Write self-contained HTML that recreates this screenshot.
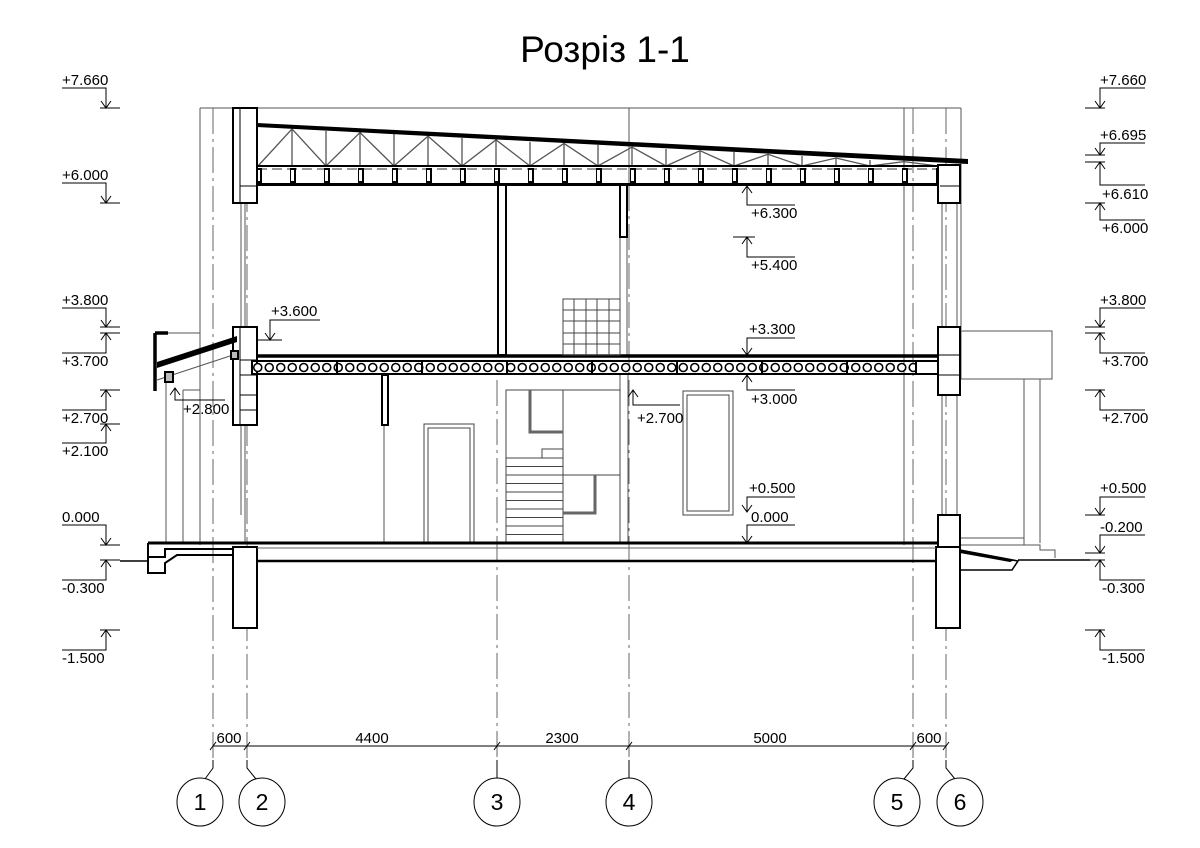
<!DOCTYPE html>
<html><head><meta charset="utf-8"><style>
html,body{margin:0;padding:0;background:#fff;}
svg{display:block;}
text{font-family:"Liberation Sans",sans-serif;fill:#000;}
</style></head><body>
<svg width="1200" height="848" viewBox="0 0 1200 848" xmlns="http://www.w3.org/2000/svg">
<defs>
<pattern id="hc" patternUnits="userSpaceOnUse" x="252" y="0" width="11.5" height="848">
<circle cx="5.75" cy="367.5" r="4" fill="#fff" stroke="#000" stroke-width="1.6"/>
</pattern>
<pattern id="post" patternUnits="userSpaceOnUse" x="256" y="0" width="34" height="848">
<rect x="0" y="169" width="5" height="13" fill="#fff" stroke="#000" stroke-width="2"/>
</pattern>
</defs>

<text x="605" y="62" font-size="37" text-anchor="middle">Розріз 1-1</text>

<g stroke="#555" stroke-width="1" fill="none">
<line x1="200" y1="108" x2="961" y2="108"/>
<line x1="200" y1="108" x2="200" y2="545"/>
<line x1="961" y1="108" x2="961" y2="330"/>
<line x1="904" y1="108" x2="904" y2="545"/>
<line x1="629" y1="108" x2="629" y2="185"/>
<line x1="620" y1="237" x2="620" y2="355"/>
<line x1="627" y1="237" x2="627" y2="355"/>
<line x1="620" y1="375" x2="620" y2="543"/>
<line x1="628" y1="375" x2="628" y2="543"/>
<line x1="166" y1="380" x2="166" y2="543"/>
<line x1="183" y1="390" x2="183" y2="543"/>
<line x1="168" y1="333" x2="200" y2="333"/>
<line x1="183" y1="390" x2="200" y2="390"/>
<line x1="241" y1="203" x2="241" y2="327"/>
<line x1="245" y1="203" x2="245" y2="327"/>
<line x1="241" y1="425" x2="241" y2="515"/>
<line x1="245" y1="425" x2="245" y2="543"/>
<line x1="942" y1="203" x2="942" y2="327"/>
<line x1="957" y1="203" x2="957" y2="327"/>
<line x1="942" y1="395" x2="942" y2="515"/>
<line x1="957" y1="395" x2="957" y2="515"/>
<line x1="384" y1="375" x2="384" y2="543"/>
<rect x="961" y="331" width="91" height="48"/>
<line x1="1024" y1="379" x2="1024" y2="545"/>
<line x1="1040" y1="379" x2="1040" y2="543"/>
<polyline points="961,545 1040,545 1040,550 1055,550 1055,558"/>
<line x1="961" y1="538" x2="1024" y2="538"/>
</g>

<g stroke="#666" stroke-width="1" stroke-dasharray="26,5,3,5" fill="none">
<line x1="213" y1="108" x2="213" y2="760"/>
<line x1="247" y1="108" x2="247" y2="760"/>
<line x1="497" y1="380" x2="497" y2="760"/>
<line x1="629" y1="185" x2="629" y2="760"/>
<line x1="913" y1="108" x2="913" y2="760"/>
<line x1="946" y1="108" x2="946" y2="760"/>
</g>

<polyline points="258,166 292,128.9 326,166 360,132.5 394,166 428,136.1 462,166 496,139.8 530,166 564,143.4 598,166 632,147.1 666,166 700,150.7 734,166 768,154.3 802,166 836,158 870,166 904,161.6 938,166" fill="none" stroke="#555" stroke-width="1.3"/>
<g stroke="#555" stroke-width="1.3">
<line x1="292" y1="129" x2="292" y2="166"/><line x1="326" y1="131" x2="326" y2="166"/><line x1="360" y1="133" x2="360" y2="166"/><line x1="394" y1="134" x2="394" y2="166"/><line x1="428" y1="136" x2="428" y2="166"/><line x1="462" y1="138" x2="462" y2="166"/><line x1="496" y1="140" x2="496" y2="166"/><line x1="530" y1="142" x2="530" y2="166"/><line x1="564" y1="143" x2="564" y2="166"/><line x1="598" y1="145" x2="598" y2="166"/><line x1="632" y1="147" x2="632" y2="166"/><line x1="666" y1="149" x2="666" y2="166"/><line x1="700" y1="151" x2="700" y2="166"/><line x1="734" y1="152" x2="734" y2="166"/><line x1="768" y1="154" x2="768" y2="166"/><line x1="802" y1="156" x2="802" y2="166"/><line x1="836" y1="158" x2="836" y2="166"/><line x1="870" y1="160" x2="870" y2="166"/><line x1="904" y1="162" x2="904" y2="166"/>
</g>
<polygon points="257,123 968,159 968,164 257,127" fill="#000"/>
<line x1="257" y1="166" x2="940" y2="166" stroke="#000" stroke-width="2"/>
<line x1="257" y1="169" x2="940" y2="169" stroke="#777" stroke-width="1.5" stroke-dasharray="10,5"/>
<rect x="256" y="166" width="682" height="17" fill="url(#post)"/>
<line x1="257" y1="184.5" x2="940" y2="184.5" stroke="#000" stroke-width="3"/>

<g fill="#fff" stroke="#000" stroke-width="2">
<rect x="233" y="108" width="24" height="95"/>
<rect x="938" y="165" width="22" height="38"/>
<rect x="233" y="327" width="24" height="98"/>
<rect x="938" y="327" width="22" height="68"/>
<rect x="938" y="515" width="22" height="32"/>
<rect x="233" y="547" width="24" height="81"/>
<rect x="936" y="547" width="24" height="81"/>
<rect x="498" y="185" width="8" height="170"/>
<rect x="620" y="185" width="7" height="52"/>
<rect x="382" y="375" width="6" height="50"/>
</g>
<g stroke="#000" stroke-width="1">
<line x1="240" y1="108" x2="240" y2="203"/><line x1="240" y1="186" x2="257" y2="186"/>
<line x1="940" y1="186" x2="960" y2="186"/>
<line x1="240" y1="327" x2="240" y2="425"/><line x1="240" y1="360" x2="257" y2="360"/>
<line x1="240" y1="375" x2="257" y2="375"/><line x1="240" y1="395" x2="257" y2="395"/><line x1="240" y1="410" x2="257" y2="410"/>
<line x1="938" y1="355" x2="960" y2="355"/><line x1="938" y1="375" x2="960" y2="375"/>
</g>

<line x1="257" y1="356" x2="938" y2="356" stroke="#000" stroke-width="3.5"/>
<rect x="252" y="361" width="664" height="13" fill="url(#hc)" stroke="#000" stroke-width="2"/>
<rect x="916" y="361" width="22" height="13" fill="#fff" stroke="#000" stroke-width="2"/>
<g stroke="#000" stroke-width="2">
<line x1="337" y1="361" x2="337" y2="374"/><line x1="422" y1="361" x2="422" y2="374"/><line x1="507" y1="361" x2="507" y2="374"/><line x1="592" y1="361" x2="592" y2="374"/><line x1="677" y1="361" x2="677" y2="374"/><line x1="762" y1="361" x2="762" y2="374"/><line x1="847" y1="361" x2="847" y2="374"/>
</g>

<g stroke="#444" stroke-width="1" fill="none">
<rect x="563" y="299" width="57" height="56"/>
<line x1="574" y1="299" x2="574" y2="355"/><line x1="586" y1="299" x2="586" y2="355"/><line x1="597" y1="299" x2="597" y2="355"/><line x1="609" y1="299" x2="609" y2="355"/>
<line x1="563" y1="310" x2="620" y2="310"/><line x1="563" y1="321" x2="620" y2="321"/><line x1="563" y1="333" x2="620" y2="333"/><line x1="563" y1="344" x2="620" y2="344"/>
</g>

<g stroke="#444" stroke-width="1" fill="none">
<rect x="506" y="390" width="114" height="153"/>
<line x1="563" y1="390" x2="563" y2="543"/>
<polyline points="530,390 530,432 563,432" stroke-width="3" stroke="#666"/>
<rect x="542" y="449" width="21" height="9"/>
<line x1="563" y1="475" x2="620" y2="475"/>
<polyline points="595,475 595,513 563,513" stroke-width="3" stroke="#666"/>
<line x1="506" y1="458" x2="563" y2="458"/><line x1="506" y1="466.5" x2="563" y2="466.5"/><line x1="506" y1="475" x2="563" y2="475"/><line x1="506" y1="483.5" x2="563" y2="483.5"/><line x1="506" y1="492" x2="563" y2="492"/><line x1="506" y1="500.5" x2="563" y2="500.5"/><line x1="506" y1="509" x2="563" y2="509"/><line x1="506" y1="517.5" x2="563" y2="517.5"/><line x1="506" y1="526" x2="563" y2="526"/><line x1="506" y1="534.5" x2="563" y2="534.5"/>
<rect x="424" y="424" width="50" height="118"/><rect x="428" y="428" width="42" height="114"/>
<rect x="683" y="391" width="50" height="124"/><rect x="687" y="395" width="42" height="116"/>
</g>

<line x1="148" y1="543" x2="938" y2="543" stroke="#000" stroke-width="3"/>
<line x1="257" y1="548" x2="936" y2="548" stroke="#666" stroke-width="1"/>
<line x1="257" y1="561" x2="936" y2="561" stroke="#000" stroke-width="2.5"/>
<line x1="120" y1="561" x2="148" y2="561" stroke="#000" stroke-width="1.5"/>
<line x1="1018" y1="560" x2="1090" y2="560" stroke="#000" stroke-width="1.5"/>
<path d="M148,543 V573 H165 V563 L177,555 H233 M148,557 H165 V549 H233" fill="none" stroke="#000" stroke-width="2"/>
<path d="M960,550 L1018,561 L1012,570 H960" fill="none" stroke="#000" stroke-width="1.5"/>
<polygon points="960,550 1015,560 1010,562 960,553" fill="#000"/>

<path d="M155,333 H168 M155,333 V391" stroke="#000" stroke-width="3.5" fill="none"/>
<polygon points="157,362 237,336 237,342 157,368" fill="#000"/>
<line x1="157" y1="380" x2="233" y2="355" stroke="#555" stroke-width="1"/>
<rect x="165" y="372" width="8" height="10" fill="#bbb" stroke="#000" stroke-width="2"/>
<rect x="231" y="351" width="7" height="8" fill="#bbb" stroke="#000" stroke-width="2"/>

<g stroke="#000" stroke-width="1" fill="none">
<path d="M62,88 H106 V108 M100,108 H120 M101,101 L106,108 L111,101"/>
<path d="M62,183 H106 V203 M100,203 H120 M101,196 L106,203 L111,196"/>
<path d="M62,308 H106 V327 M100,327 H120 M101,320 L106,327 L111,320"/>
<path d="M62,353 H106 V333 M100,333 H120 M101,340 L106,333 L111,340"/>
<path d="M62,410 H106 V390 M100,390 H120 M101,397 L106,390 L111,397"/>
<path d="M62,443 H106 V424 M100,424 H120 M101,431 L106,424 L111,431"/>
<path d="M62,525 H106 V545 M100,545 H120 M101,538 L106,545 L111,538"/>
<path d="M62,580 H106 V560 M100,560 H120 M101,567 L106,560 L111,567"/>
<path d="M62,650 H106 V630 M100,630 H120 M101,637 L106,630 L111,637"/>
<path d="M1145,88 H1100 V108 M1085,108 H1105 M1095,101 L1100,108 L1105,101"/>
<path d="M1145,143 H1100 V155 M1085,155 H1105 M1095,148 L1100,155 L1105,148"/>
<path d="M1145,185 H1100 V162 M1085,162 H1105 M1095,169 L1100,162 L1105,169"/>
<path d="M1145,220 H1100 V203 M1085,203 H1105 M1095,210 L1100,203 L1105,210"/>
<path d="M1145,308 H1100 V327 M1085,327 H1105 M1095,320 L1100,327 L1105,320"/>
<path d="M1145,353 H1100 V333 M1085,333 H1105 M1095,340 L1100,333 L1105,340"/>
<path d="M1145,410 H1100 V390 M1085,390 H1105 M1095,397 L1100,390 L1105,397"/>
<path d="M1145,497 H1100 V515 M1085,515 H1105 M1095,508 L1100,515 L1105,508"/>
<path d="M1145,535 H1100 V553 M1085,553 H1105 M1095,546 L1100,553 L1105,546"/>
<path d="M1145,580 H1100 V560 M1085,560 H1105 M1095,567 L1100,560 L1105,567"/>
<path d="M1145,650 H1100 V630 M1085,630 H1105 M1095,637 L1100,630 L1105,637"/>
<path d="M795,205 H747 V186 M742,193 L747,186 L752,193"/>
<path d="M795,257 H747 V237 M733,237 H755 M742,244 L747,237 L752,244"/>
<path d="M795,338 H747 V355 M742,348 L747,355 L752,348"/>
<path d="M795,390 H747 V375 M742,382 L747,375 L752,382"/>
<path d="M795,497 H747 V512 M742,505 L747,512 L752,505"/>
<path d="M795,525 H747 V543 M742,536 L747,543 L752,536"/>
<path d="M680,405 H633 V390 M628,397 L633,390 L638,397"/>
<path d="M320,320 H270 V340 M258,340 H282 M265,333 L270,340 L275,333"/>
<path d="M225,400 H175 V388 M170,395 L175,388 L180,395"/>
</g>
<g font-size="15">
<text x="62" y="85">+7.660</text>
<text x="62" y="180">+6.000</text>
<text x="62" y="305">+3.800</text>
<text x="62" y="366">+3.700</text>
<text x="62" y="423">+2.700</text>
<text x="62" y="456">+2.100</text>
<text x="62" y="522">0.000</text>
<text x="62" y="593">-0.300</text>
<text x="62" y="663">-1.500</text>
<text x="1100" y="85">+7.660</text>
<text x="1100" y="140">+6.695</text>
<text x="1102" y="199">+6.610</text>
<text x="1102" y="233">+6.000</text>
<text x="1100" y="305">+3.800</text>
<text x="1102" y="366">+3.700</text>
<text x="1102" y="423">+2.700</text>
<text x="1100" y="493">+0.500</text>
<text x="1100" y="532">-0.200</text>
<text x="1102" y="593">-0.300</text>
<text x="1102" y="663">-1.500</text>
<text x="751" y="218">+6.300</text>
<text x="751" y="270">+5.400</text>
<text x="749" y="334">+3.300</text>
<text x="751" y="404">+3.000</text>
<text x="637" y="423">+2.700</text>
<text x="749" y="493">+0.500</text>
<text x="751" y="522">0.000</text>
<text x="271" y="316">+3.600</text>
<text x="183" y="414">+2.800</text>
</g>

<g stroke="#000" stroke-width="1">
<line x1="213" y1="746" x2="946" y2="746"/>
<line x1="210" y1="750" x2="216" y2="742"/><line x1="244" y1="750" x2="250" y2="742"/><line x1="494" y1="750" x2="500" y2="742"/><line x1="626" y1="750" x2="632" y2="742"/><line x1="910" y1="750" x2="916" y2="742"/><line x1="943" y1="750" x2="949" y2="742"/>
<path d="M213,760 V768 L205,779" fill="none"/>
<path d="M247,760 V768 L256,779" fill="none"/>
<path d="M497,760 V779" fill="none"/>
<path d="M629,760 V779" fill="none"/>
<path d="M913,760 V768 L904,779" fill="none"/>
<path d="M946,760 V768 L955,779" fill="none"/>
</g>
<g font-size="15" text-anchor="middle">
<text x="229" y="743">600</text><text x="372" y="743">4400</text><text x="562" y="743">2300</text><text x="770" y="743">5000</text><text x="929" y="743">600</text>
</g>
<g fill="#fff" stroke="#000" stroke-width="1">
<ellipse cx="200" cy="802" rx="23" ry="24"/><ellipse cx="262" cy="802" rx="23" ry="24"/><ellipse cx="497" cy="802" rx="23" ry="24"/><ellipse cx="629" cy="802" rx="23" ry="24"/><ellipse cx="897" cy="802" rx="23" ry="24"/><ellipse cx="960" cy="802" rx="23" ry="24"/>
</g>
<g font-size="23" text-anchor="middle">
<text x="200" y="810">1</text><text x="262" y="810">2</text><text x="497" y="810">3</text><text x="629" y="810">4</text><text x="897" y="810">5</text><text x="960" y="810">6</text>
</g>
</svg>
</body></html>
